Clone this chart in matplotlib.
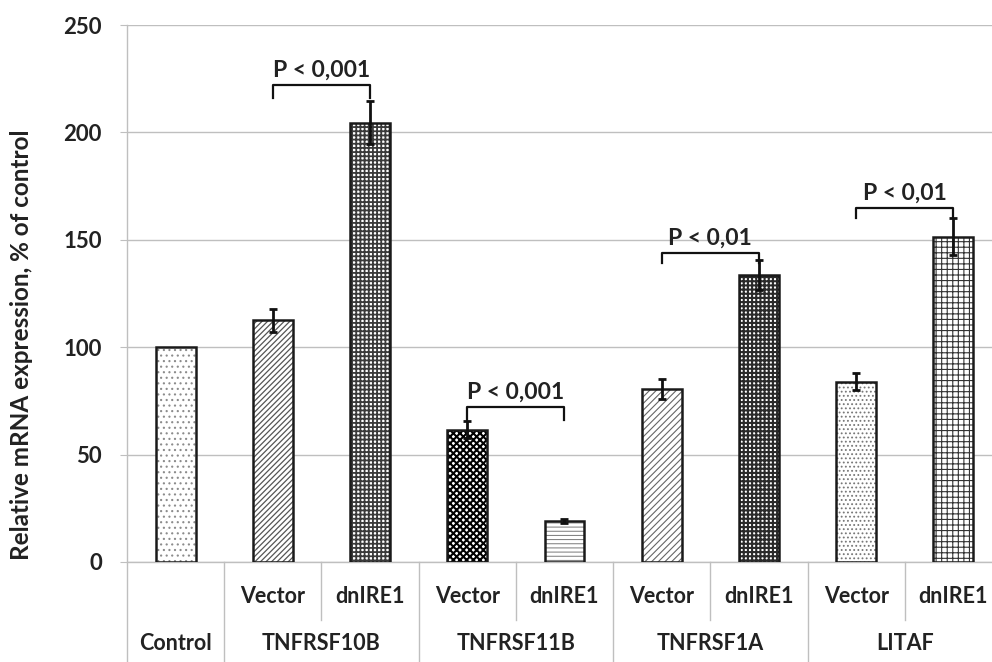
import numpy as np
import matplotlib
matplotlib.use('Agg')
import matplotlib.pyplot as plt
import matplotlib.transforms as mtransforms

plt.rcParams['font.family'] = ['Lato', 'DejaVu Sans']

# data
sub_labels = ['', 'Vector', 'dnIRE1', 'Vector', 'dnIRE1', 'Vector', 'dnIRE1', 'Vector', 'dnIRE1']
group_labels = ['Control', 'TNFRSF10B', 'TNFRSF11B', 'TNFRSF1A', 'LITAF']
group_sizes = [1, 2, 2, 2, 2]
values = [100, 112.5, 204.5, 61.5, 19, 80.5, 133.5, 84, 151.5]
errors = [0, 5.5, 10, 4, 1, 4.5, 7, 4, 8.5]

# significance brackets: (left bar, right bar, text)
pairs = [(1, 2, 'P < 0,001'), (3, 4, 'P < 0,001'), (5, 6, 'P < 0,01'), (7, 8, 'P < 0,01')]
bracket_top = [222, 72, 144, 165]
bracket_leg = [216, 66, 139, 160]

# bar looks (hatch, hatch colour, hatch width)
hatches = ['...', '//////', '++++', 'xxxxx', '----', '/////', '++++', '....', '+++']
hatch_cols = ['#8c8c8c', '#555555', '#3a3a3a', '#000000', '#777777', '#666666', '#2a2a2a', '#777777', '#333333']
hatch_lws = [0.8, 0.9, 1.3, 1.5, 0.7, 0.8, 1.5, 0.8, 0.8]

fig = plt.figure(figsize=(9.92, 6.62), dpi=100)
ax = fig.add_axes([127/992, 100/662, 875/992, 537/662])

x = np.arange(len(values))
w = 0.41
for i in range(len(values)):
    with plt.rc_context({'hatch.linewidth': hatch_lws[i]}):
        b = ax.bar(x[i], values[i], w, color='white', edgecolor=hatch_cols[i], hatch=hatches[i], linewidth=0, zorder=2)
        for p in b:
            if hasattr(p, 'set_hatch_linewidth'):
                p.set_hatch_linewidth(hatch_lws[i])
ax.bar(x, values, w, color='none', edgecolor='#1a1a1a', linewidth=1.8, zorder=3)
ax.errorbar(x[1:], values[1:], yerr=errors[1:], fmt='none', ecolor='#111111', elinewidth=2, capsize=3, capthick=2, zorder=4)

for (a, b, txt), top, leg in zip(pairs, bracket_top, bracket_leg):
    ax.plot([x[a], x[a], x[b], x[b]], [leg, top, top, leg], color='#111111', lw=1.6, zorder=4)
    ax.text((x[a] + x[b]) / 2, top + 2.0, txt, ha='center', va='bottom', fontsize=16.5, fontweight='bold', color='#222222')

ax.set_xlim(-0.5, len(values) - 0.5)
ax.set_ylim(0, 250)
ax.set_yticks(np.arange(0, 251, 50))
ax.yaxis.grid(True, color='#bfbfbf', linewidth=1)
ax.set_axisbelow(True)
for s in ax.spines.values():
    s.set_visible(False)
ax.set_xticks([])
ax.tick_params(axis='y', length=5, color='#bfbfbf', pad=13, labelsize=16, labelcolor='#222222')
for t in ax.get_yticklabels():
    t.set_fontweight('bold')

# category axis drawn as a two-row table
trans = mtransforms.blended_transform_factory(ax.transData, ax.transAxes)
ax.plot([-0.5, len(values) - 0.5], [0, 0], color='#bfbfbf', lw=1, transform=trans, clip_on=False)
ax.plot([-0.5, -0.5], [-0.2, 1], color='#bfbfbf', lw=1, transform=trans, clip_on=False)
bounds = np.cumsum(group_sizes) - 0.5
for i in range(1, len(values) + 1):
    xb = i - 0.5
    bottom = -0.2 if np.any(np.isclose(bounds, xb)) else -0.108
    ax.plot([xb, xb], [0, bottom], color='#bfbfbf', lw=1, transform=trans, clip_on=False)

for i, lab in enumerate(sub_labels):
    if lab:
        ax.text(x[i], -0.065, lab, ha='center', va='center', fontsize=15.5, fontweight='bold',
                color='#222222', transform=trans)
start = 0
for g, n in zip(group_labels, group_sizes):
    ax.text(start + (n - 1) / 2, -0.151, g, ha='center', va='center', fontsize=15.5, fontweight='bold',
            color='#222222', transform=trans)
    start += n

fig.text(22/992, 1 - 345/662, 'Relative mRNA expression, % of control', rotation=90,
         ha='center', va='center', fontsize=17.5, fontweight='bold', color='#222222')

fig.savefig('out.png', dpi=100)
